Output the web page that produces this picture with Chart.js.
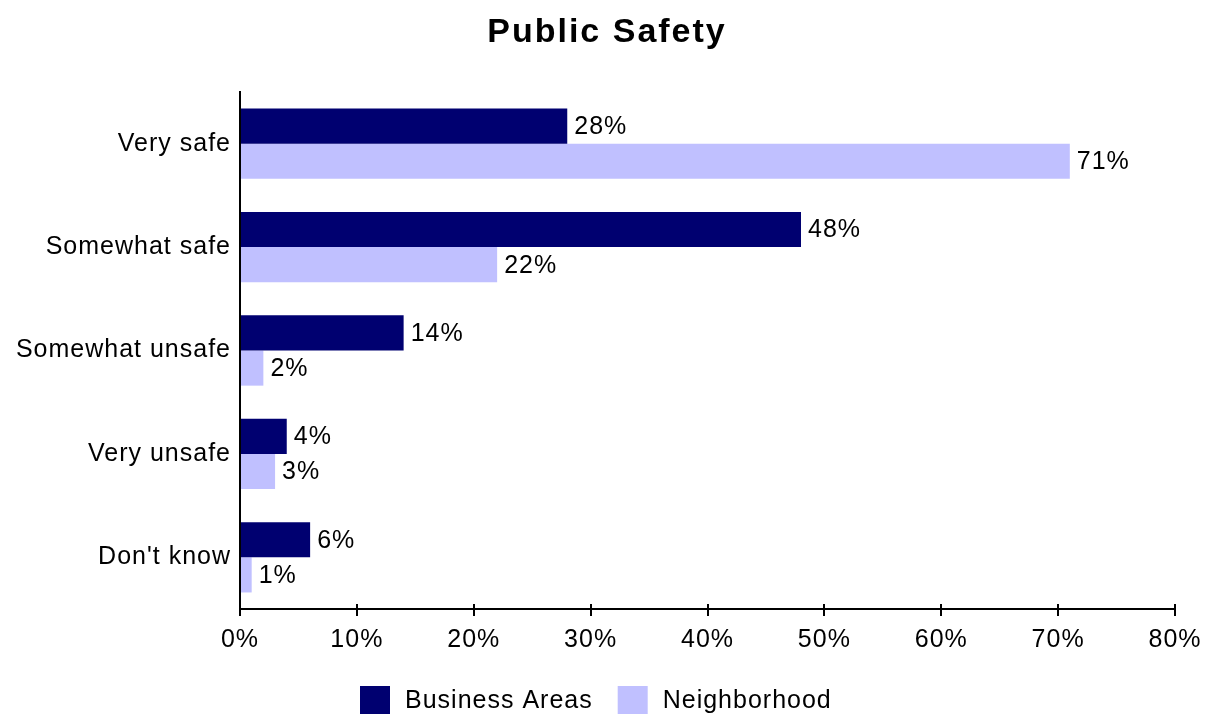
<!DOCTYPE html>
<html>
<head>
<meta charset="utf-8">
<script src="https://cdn.jsdelivr.net/npm/chart.js@4"></script>
<style>
  html, body { margin: 0; padding: 0; background: #fff; }
  #wrap { width: 1207px; height: 715px; }
</style>
</head>
<body>
<div id="wrap"><canvas id="safetyChart" width="1207" height="715"></canvas></div>
<script>
// survey answers and percentages per area
const categories = ["Very safe", "Somewhat safe", "Somewhat unsafe", "Very unsafe", "Don't know"];
const businessAreas = [28, 48, 14, 4, 6];
const neighborhood = [71, 22, 2, 3, 1];
const xTicks = [0, 10, 20, 30, 40, 50, 60, 70, 80];
const chartTitle = "Public Safety";

const FONT = "'Liberation Sans', Arial, sans-serif";

// a bit of tracking on every label, the text looks cramped otherwise
const spacing = {
  id: "spacing",
  beforeLayout(chart) { chart.ctx.letterSpacing = "1px"; },
  beforeDraw(chart) { chart.ctx.letterSpacing = "1px"; },
};

// title drawn by hand so it can get its own tracking
const bigTitle = {
  id: "bigTitle",
  afterDraw(chart) {
    const ctx = chart.ctx;
    ctx.save();
    ctx.letterSpacing = "2px";
    ctx.font = "bold 34px " + FONT;
    ctx.fillStyle = "#000";
    ctx.textAlign = "center";
    ctx.textBaseline = "alphabetic";
    ctx.fillText(chartTitle, 607, 42);
    ctx.restore();
  },
};

// legend row under the axis: square swatch then series name
const bottomLegend = {
  id: "bottomLegend",
  afterDraw(chart) {
    const ctx = chart.ctx;
    ctx.save();
    ctx.letterSpacing = "1px";
    ctx.font = "25px " + FONT;
    ctx.textAlign = "left";
    ctx.textBaseline = "middle";
    let x = 360;
    const y = 700;
    chart.data.datasets.forEach((ds) => {
      ctx.fillStyle = ds.backgroundColor;
      ctx.fillRect(x, y - 14, 30, 28);
      ctx.fillStyle = "#000";
      ctx.fillText(ds.label, x + 45, y + 1);
      x += 45 + ctx.measureText(ds.label).width + 25;
    });
    ctx.restore();
  },
};

// small tick stubs poking up into the plot from the x axis
const innerTicks = {
  id: "innerTicks",
  afterDraw(chart) {
    const scale = chart.scales.x;
    const ctx = chart.ctx;
    ctx.save();
    ctx.strokeStyle = "#000";
    ctx.lineWidth = 2;
    ctx.beginPath();
    xTicks.forEach((v) => {
      const px = Math.round(scale.getPixelForValue(v));
      ctx.moveTo(px, scale.top - 5);
      ctx.lineTo(px, scale.top);
    });
    ctx.stroke();
    ctx.restore();
  },
};

// writes the value at the end of each bar
const barValues = {
  id: "barValues",
  afterDatasetsDraw(chart) {
    const ctx = chart.ctx;
    ctx.save();
    ctx.letterSpacing = "1px";
    ctx.font = "25px " + FONT;
    ctx.fillStyle = "#000";
    ctx.textAlign = "left";
    ctx.textBaseline = "middle";
    chart.data.datasets.forEach((ds, i) => {
      chart.getDatasetMeta(i).data.forEach((bar, j) => {
        ctx.fillText(ds.data[j] + "%", bar.x + 7, bar.y + 1);
      });
    });
    ctx.restore();
  },
};

new Chart(document.getElementById("safetyChart").getContext("2d"), {
  type: "bar",
  data: {
    labels: categories,
    datasets: [
      {
        label: "Business Areas",
        data: businessAreas,
        backgroundColor: "#000070",
        categoryPercentage: 0.68,
        barPercentage: 1,
      },
      {
        label: "Neighborhood",
        data: neighborhood,
        backgroundColor: "#C0C0FF",
        categoryPercentage: 0.68,
        barPercentage: 1,
      },
    ],
  },
  options: {
    indexAxis: "y",
    responsive: false,
    animation: false,
    layout: { padding: { left: 0, right: 32, top: 92, bottom: 37 } },
    plugins: {
      title: { display: false },
      legend: { display: false },
      tooltip: { enabled: false },
    },
    scales: {
      x: {
        min: 0,
        max: 80,
        afterBuildTicks: (axis) => {
          axis.ticks = xTicks.map((v) => ({ value: v }));
        },
        ticks: {
          color: "#000",
          font: { family: FONT, size: 25 },
          padding: 9,
          maxRotation: 0,
          callback: (v) => v + "%",
        },
        grid: {
          drawOnChartArea: false,
          drawTicks: true,
          tickLength: 7,
          color: "#000",
          lineWidth: 2,
        },
        border: { display: true, color: "#000", width: 2 },
        afterFit: (axis) => {
          axis.height = 69;
          axis.paddingLeft = 0;
          axis.paddingRight = 0;
        },
      },
      y: {
        ticks: {
          color: "#000",
          font: { family: FONT, size: 25 },
          padding: 9,
        },
        grid: { drawOnChartArea: false, drawTicks: false },
        border: { display: true, color: "#000", width: 2 },
        afterFit: (axis) => { axis.width = 240; },
      },
    },
  },
  plugins: [spacing, barValues, innerTicks, bottomLegend, bigTitle],
});
</script>
</body>
</html>
